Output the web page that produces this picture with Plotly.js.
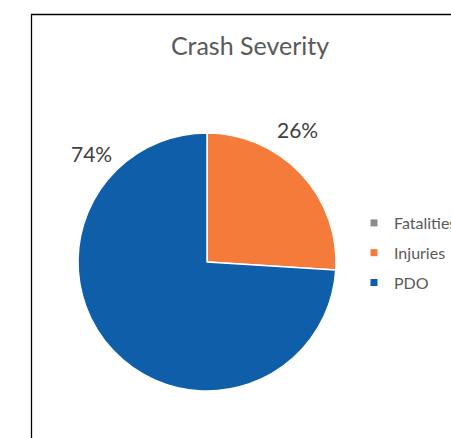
<!DOCTYPE html>
<html>
<head>
<meta charset="utf-8">
<script src="https://cdn.plot.ly/plotly-3.0.1.min.js"></script>
<style>html,body{margin:0;padding:0;background:#fff;}</style>
</head>
<body>
<div id="chart" style="width:451px;height:438px;"></div>
<script>
const categories = ["Fatalities", "Injuries", "PDO"];
const values = [0, 26, 74];
const colors = ["#8C8C8C", "#F47B39", "#0E5EA9"];
const chartTitle = "Crash Severity";

const W = 451, H = 438;
const px = x => x / W;
const py = y => 1 - y / H;
const FONT = "Lato, 'Open Sans', sans-serif";
const TXT = "#595959";

const total = values.reduce((a, b) => a + b, 0);
const pctText = values.map(v => Math.round(v / total * 100) + "%");

const pie = {
  type: "pie",
  labels: categories,
  values: values,
  sort: false,
  direction: "clockwise",
  rotation: 0,
  marker: { colors: colors, line: { color: "#ffffff", width: 1.5 } },
  textinfo: "none",
  hoverinfo: "label+percent",
  showlegend: false,
  domain: { x: [px(78), px(336)], y: [py(391), py(133)] }
};

const legendTraces = categories.map((c, i) => ({
  type: "scatter", mode: "markers", x: [null], y: [null],
  name: c, legendgroup: c, showlegend: true,
  marker: { symbol: "square", size: 7, color: colors[i] },
  hoverinfo: "skip"
}));

// percentage labels placed outside slices (Excel-style)
const labelPos = { "Injuries": [297, 130], "PDO": [91, 154] };
const annotations = categories
  .map((c, i) => ({ c, i }))
  .filter(o => values[o.i] > 0 && labelPos[o.c])
  .map(o => ({
    text: pctText[o.i], showarrow: false,
    xref: "paper", yref: "paper",
    x: px(labelPos[o.c][0]), y: py(labelPos[o.c][1]),
    xanchor: "center", yanchor: "middle",
    font: { family: FONT, size: 21, color: "#404040" }
  }));

const layout = {
  width: W, height: H,
  margin: { l: 0, r: 0, t: 0, b: 0, autoexpand: false },
  paper_bgcolor: "#ffffff", plot_bgcolor: "#ffffff",
  title: {
    text: chartTitle, x: px(250), y: py(46), xanchor: "center", yanchor: "middle",
    xref: "paper", yref: "paper",
    font: { family: FONT, size: 25, color: TXT }
  },
  xaxis: { visible: false, domain: [0, 1] },
  yaxis: { visible: false, domain: [0, 1] },
  showlegend: true,
  legend: {
    x: px(354), y: py(206), xanchor: "left", yanchor: "top",
    traceorder: "grouped", tracegroupgap: 6,
    font: { family: FONT, size: 16, color: TXT },
    bgcolor: "rgba(0,0,0,0)", itemclick: false
  },
  annotations: annotations,
  shapes: [{
    type: "rect", xref: "paper", yref: "paper",
    x0: px(31.5), x1: 1.1, y0: -0.1, y1: py(14.5),
    line: { color: "#000000", width: 1.3 }, fillcolor: "rgba(0,0,0,0)", layer: "above"
  }]
};

Plotly.newPlot("chart", [pie, ...legendTraces], layout, { displayModeBar: false, staticPlot: true });
</script>
</body>
</html>
